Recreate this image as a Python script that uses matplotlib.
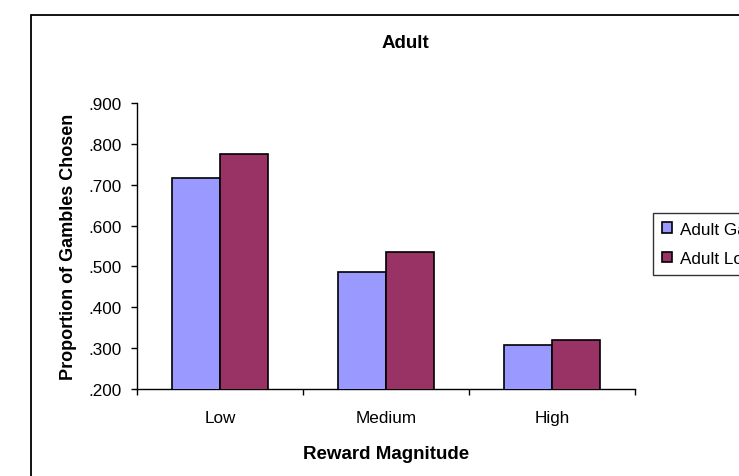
import matplotlib
matplotlib.use("Agg")
import matplotlib.pyplot as plt
import numpy as np
from matplotlib.patches import Rectangle
from matplotlib.ticker import FixedLocator, FuncFormatter

plt.rcParams["font.family"] = ["Liberation Sans", "DejaVu Sans"]

magnitudes = ["Low", "Medium", "High"]
adult_gain = [0.715, 0.487, 0.307]
adult_loss = [0.775, 0.535, 0.320]
series_names = ["Adult Gain", "Adult Loss"]
y_ticks = [0.2, 0.3, 0.4, 0.5, 0.6, 0.7, 0.8, 0.9]

W, H = 739, 477
fig = plt.figure(figsize=(W / 100, H / 100), dpi=100)
ax = fig.add_axes([137 / W, 1 - 390.3 / H, 498 / W, 286.6 / H])

x = np.arange(len(magnitudes))
bw = 0.289
ax.bar(x - bw / 2, adult_gain, bw, color="#9999FF", edgecolor="black", linewidth=1.2,
       label=series_names[0], zorder=3)
ax.bar(x + bw / 2, adult_loss, bw, color="#993366", edgecolor="black", linewidth=1.2,
       label=series_names[1], zorder=3)

ax.set_xlim(-0.5, 2.5)
ax.set_ylim(0.2, 0.9)
ax.set_yticks(y_ticks)
ax.yaxis.set_major_formatter(FuncFormatter(lambda v, p: f"{v:.3f}".lstrip("0")))
ax.set_xticks(x)
ax.set_xticklabels(magnitudes)
ax.xaxis.set_minor_locator(FixedLocator([-0.5, 0.5, 1.5, 2.5]))

ax.tick_params(axis="x", which="major", length=0, pad=15, labelsize=12.3)
ax.tick_params(axis="x", which="minor", length=4, width=1, direction="out")
ax.tick_params(axis="y", length=4, width=1, direction="out", pad=7, labelsize=12.3)

for s in ["top", "right"]:
    ax.spines[s].set_visible(False)
for s in ["left", "bottom"]:
    ax.spines[s].set_linewidth(1.0)

ax.set_xlabel("Reward Magnitude", fontsize=13.5, fontweight="bold", labelpad=14)
ax.set_ylabel("Proportion of Gambles Chosen", fontsize=13, fontweight="bold")
ax.yaxis.set_label_coords((77 - 137) / 498, 0.5)

fig.text(405 / W, 1 - 44 / H, "Adult", fontsize=13.5, fontweight="bold",
         ha="center", va="center")

# legend sits partly past the right edge of the canvas
leg = fig.legend(loc="upper left", bbox_to_anchor=(653 / W, 1 - 214 / H),
                 fontsize=12.3, frameon=True, fancybox=False, edgecolor="black",
                 handlelength=0.6, handleheight=0.6, handletextpad=0.5,
                 labelspacing=0.85, borderpad=0.5, borderaxespad=0)
leg.get_frame().set_linewidth(1.0)

# outer chart border, running off the right and bottom edges
fig.patches.append(Rectangle((31 / W, -0.2), 1.5, 1 - 16 / H + 0.2,
                             transform=fig.transFigure, fill=False,
                             edgecolor="black", linewidth=1.3))

fig.savefig("out.png", dpi=100)
